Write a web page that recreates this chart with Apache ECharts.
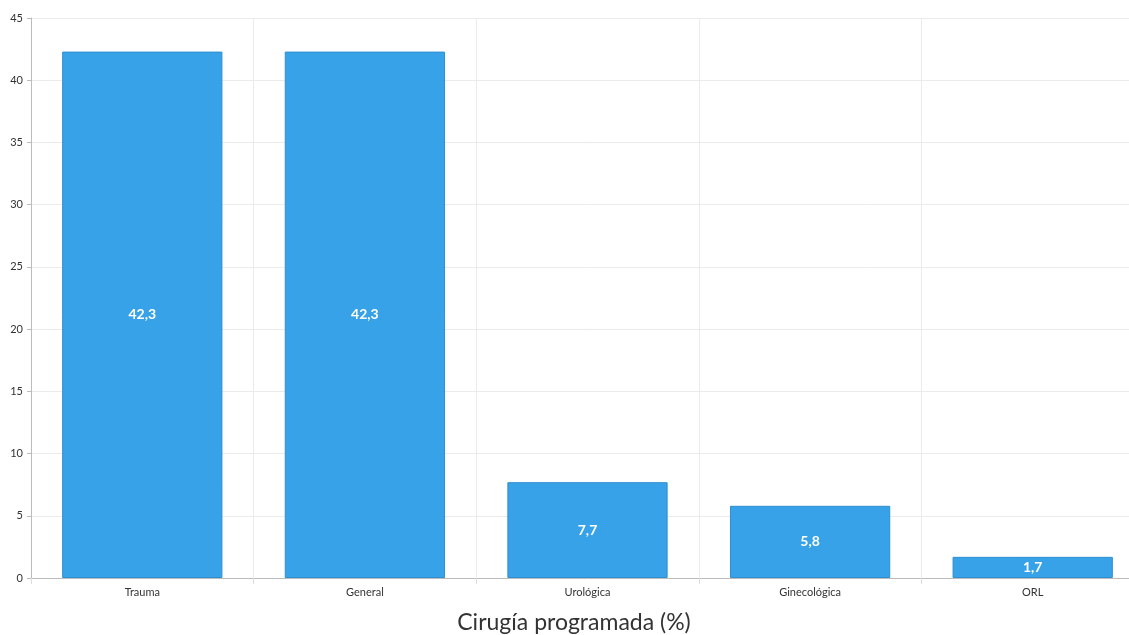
<!DOCTYPE html>
<html><head><meta charset="utf-8">
<script src="https://cdn.jsdelivr.net/npm/echarts@6/dist/echarts.min.js"></script>
<style>html,body{margin:0;padding:0;background:#fff;overflow:hidden;width:1129px;height:635px}#c{width:1146px;height:635px}</style>
</head><body><div id="c"></div>
<script>
const categories = ['Trauma', 'General', 'Urológica', 'Ginecológica', 'ORL'];
const values = [42.3, 42.3, 7.7, 5.8, 1.7];
const titleText = 'Cirugía programada (%)';

const chart = echarts.init(document.getElementById('c'));
chart.setOption({
  animation: false,
  textStyle: { fontFamily: 'Lato' },
  title: {
    text: titleText, left: 569, top: 606,
    textAlign: 'center',
    textStyle: { fontFamily: 'Lato', fontSize: 23, fontWeight: 'normal', color: '#333' }
  },
  grid: { left: 31, width: 1113, top: 18, height: 560, containLabel: false },
  xAxis: {
    type: 'category', data: categories,
    axisLine: { lineStyle: { color: '#bbb' } },
    axisTick: { show: true, length: 6, lineStyle: { color: '#ddd' } },
    axisLabel: { color: '#333', fontSize: 11, margin: 9 },
    splitLine: { show: true, lineStyle: { color: '#ebebeb' } }
  },
  yAxis: {
    type: 'value', min: 0, max: 45, interval: 5,
    axisLine: { show: true, lineStyle: { color: '#bbb' } },
    axisTick: { show: true, length: 4, lineStyle: { color: '#bbb' } },
    axisLabel: { color: '#333', fontSize: 11, margin: 8 },
    splitLine: { lineStyle: { color: '#ebebeb' } }
  },
  series: [{
    type: 'bar', data: values, barWidth: '72%',
    itemStyle: { color: '#37a2e8', borderColor: '#2f8fd0', borderWidth: 1 },
    label: {
      show: true, position: 'inside', color: '#fff', fontSize: 14, fontWeight: 'bold',
      fontFamily: 'Lato',
      backgroundColor: '#37a2e8', padding: [2, 3],
      formatter: p => String(p.value).replace('.', ',')
    }
  }]
});
</script></body></html>
